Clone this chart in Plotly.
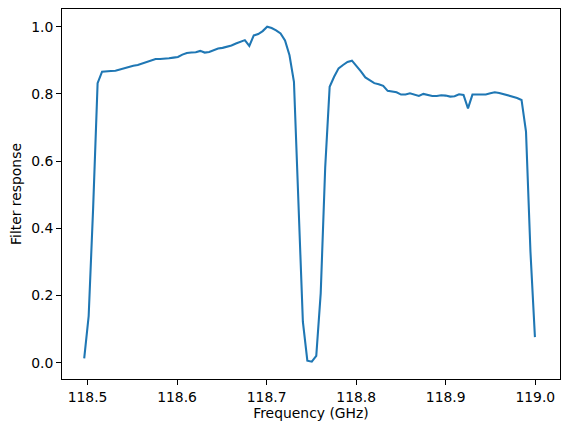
import numpy as np
import plotly.graph_objects as go

# Frequency grid (GHz): evenly sampled band
FREQ_START = 118.4963
FREQ_STOP = 118.9996
N_POINTS = 102
frequency_ghz = np.linspace(FREQ_START, FREQ_STOP, N_POINTS)

filter_response = [
    0.013, 0.139, 0.46, 0.832, 0.866, 0.868, 0.868, 0.869, 0.873, 0.878,
    0.880, 0.884, 0.886, 0.890, 0.894, 0.899, 0.904, 0.904, 0.904, 0.906,
    0.908, 0.910, 0.917, 0.922, 0.923, 0.924, 0.928, 0.923, 0.925, 0.931,
    0.935, 0.937, 0.940, 0.944, 0.950, 0.956, 0.960, 0.943, 0.974, 0.978,
    0.987, 1.000, 0.996, 0.989, 0.980, 0.959, 0.915, 0.836, 0.46, 0.122,
    0.006, 0.003, 0.020, 0.207, 0.58, 0.821, 0.851, 0.876, 0.886, 0.895,
    0.899, 0.884, 0.867, 0.849, 0.840, 0.832, 0.829, 0.824, 0.809, 0.807,
    0.805, 0.798, 0.798, 0.802, 0.797, 0.794, 0.800, 0.796, 0.794, 0.794,
    0.796, 0.795, 0.792, 0.793, 0.799, 0.797, 0.757, 0.798, 0.798, 0.797,
    0.798, 0.802, 0.805, 0.803, 0.799, 0.797, 0.793, 0.788, 0.782, 0.688,
    0.33, 0.076,
]

x_ticks = [118.5, 118.6, 118.7, 118.8, 118.9, 119.0]
y_ticks = [0.0, 0.2, 0.4, 0.6, 0.8, 1.0]

fig = go.Figure()
fig.add_trace(go.Scatter(
    x=frequency_ghz, y=filter_response, mode="lines",
    line=dict(color="#1f77b4", width=2.08),
    showlegend=False, hoverinfo="x+y",
))

font = dict(family="DejaVu Sans", size=13.9, color="black")
axis_common = dict(
    showline=True, linecolor="black", linewidth=1.1, mirror=True,
    ticks="outside", ticklen=4.9, tickwidth=1.1, tickcolor="black",
    showgrid=False, zeroline=False, tickfont=font, automargin=False,
)

fig.update_layout(
    width=567, height=432,
    margin=dict(l=62, r=7, t=9, b=53),
    paper_bgcolor="white", plot_bgcolor="white",
    font=font,
    xaxis=dict(
        range=[118.4715, 119.0276], tickvals=x_ticks,
        ticktext=[f"{v:.1f}" for v in x_ticks],
        title=dict(text="Frequency (GHz)", font=font, standoff=4),
        **axis_common,
    ),
    yaxis=dict(
        range=[-0.0485, 1.0527], tickvals=y_ticks,
        ticktext=[f"{v:.1f}" for v in y_ticks],
        title=dict(text="Filter response", font=font, standoff=6),
        **axis_common,
    ),
)

fig.write_html(
    "out.html",
    config={"displayModeBar": False},
    post_script="document.body.style.margin='0px';document.body.style.overflow='hidden';",
)
